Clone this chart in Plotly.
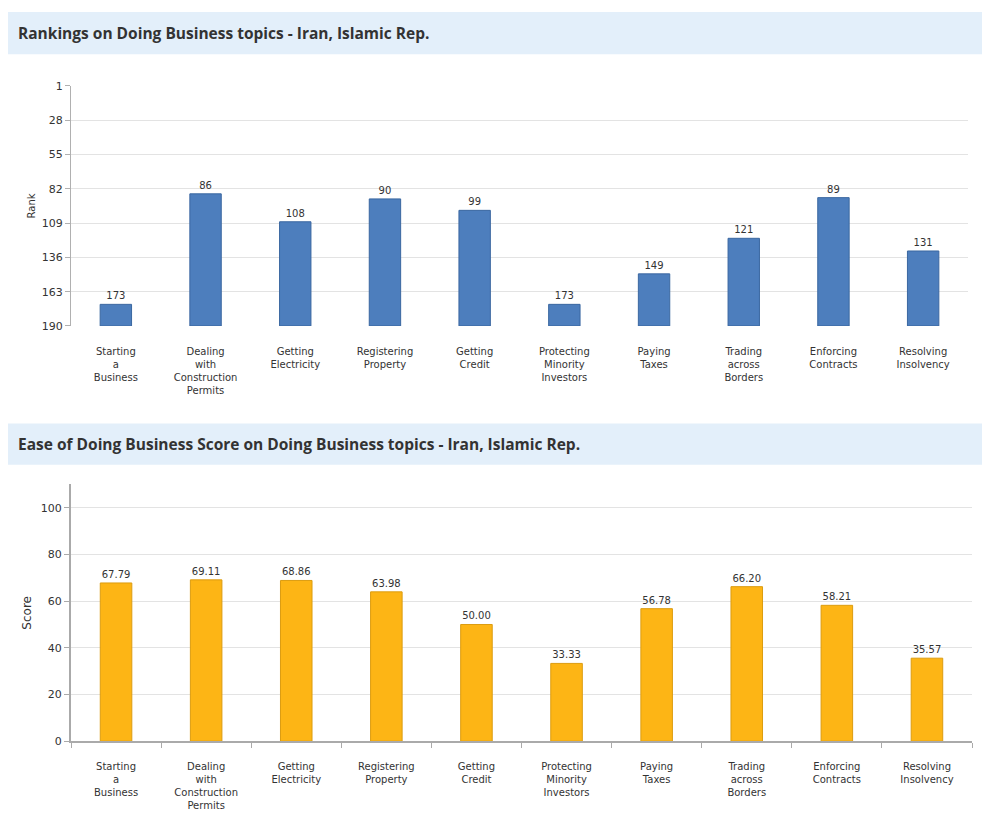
import plotly.graph_objects as go

# Doing Business topics (line breaks as in the source chart)
topics = [
    "Starting<br>a<br>Business",
    "Dealing<br>with<br>Construction<br>Permits",
    "Getting<br>Electricity",
    "Registering<br>Property",
    "Getting<br>Credit",
    "Protecting<br>Minority<br>Investors",
    "Paying<br>Taxes",
    "Trading<br>across<br>Borders",
    "Enforcing<br>Contracts",
    "Resolving<br>Insolvency",
]
ranks = [173, 86, 108, 90, 99, 173, 149, 121, 89, 131]
scores = [67.79, 69.11, 68.86, 63.98, 50.00, 33.33, 56.78, 66.20, 58.21, 35.57]

rank_ticks = [1, 28, 55, 82, 109, 136, 163, 190]
score_ticks = [0, 20, 40, 60, 80, 100]
rank_floor = 190

W, H = 1000, 817
OFF = 8  # page body margin


def px_x(p):
    return (p - OFF) / W


def px_y(p):
    # pixel from top of window -> paper fraction
    return 1 - (p - OFF) / H


font = "DejaVu Sans"
grid = "#e3e3e3"

fig = go.Figure()

fig.add_trace(go.Bar(
    x=topics, y=[r - rank_floor for r in ranks], base=rank_floor,
    width=0.35,
    marker=dict(color="#4d7ebd", line=dict(color="#3a67a0", width=1)),
    text=[str(r) for r in ranks], textposition="outside",
    textfont=dict(size=10, color="#333"), cliponaxis=False,
    xaxis="x", yaxis="y", showlegend=False,
))

fig.add_trace(go.Bar(
    x=topics, y=scores, width=0.35,
    marker=dict(color="#fdb515", line=dict(color="#dc9c10", width=1)),
    text=[f"{s:.2f}" for s in scores], textposition="outside",
    textfont=dict(size=10, color="#333"), cliponaxis=False,
    xaxis="x2", yaxis="y2", showlegend=False,
))

fig.update_layout(
    width=W, height=H,
    margin=dict(l=0, r=0, t=0, b=0),
    paper_bgcolor="white", plot_bgcolor="white",
    font=dict(family=font, size=10, color="#333"),
    xaxis=dict(domain=[px_x(71), px_x(968)], anchor="y", showline=False,
               ticks="", ticklabelstandoff=18, tickfont=dict(size=10),
               showgrid=False),
    yaxis=dict(domain=[px_y(325), px_y(81)], anchor="x",
               range=[rank_floor, 1], tickvals=rank_ticks,
               showline=True, linecolor="#b0b0b0", linewidth=1,
               ticks="outside", ticklen=5, tickcolor="#b0b0b0",
               gridcolor=grid, zeroline=False, tickfont=dict(size=11),
               title=dict(text="Rank", font=dict(size=10), standoff=4)),
    xaxis2=dict(domain=[px_x(71), px_x(972)], anchor="y2", showline=True,
                linecolor="#aaaaaa", linewidth=2, ticks="outside",
                tickson="boundaries", ticklen=5, tickcolor="#aaaaaa",
                ticklabelstandoff=15, tickfont=dict(size=10), showgrid=False),
    yaxis2=dict(domain=[px_y(747), px_y(486)], anchor="x2",
                range=[0, 110], tickvals=score_ticks,
                showline=True, linecolor="#aaaaaa", linewidth=2,
                ticks="outside", ticklen=5, tickcolor="#aaaaaa",
                gridcolor=grid, zeroline=False, tickfont=dict(size=11),
                title=dict(text="Score", font=dict(size=12), standoff=7)),
)

# title bands
for top, bottom, title in [
    (6, 49, "Rankings on Doing Business topics - Iran, Islamic Rep."),
    (424, 466, "Ease of Doing Business Score on Doing Business topics - Iran, Islamic Rep."),
]:
    fig.add_shape(type="rect", xref="paper", yref="paper",
                  x0=px_x(8), x1=px_x(982), y0=px_y(bottom), y1=px_y(top),
                  fillcolor="#e3effa", line=dict(width=0), layer="below")
    fig.add_annotation(xref="paper", yref="paper", x=px_x(16),
                       y=px_y((top + bottom) / 2), xanchor="left", yanchor="middle",
                       text=f"<b>{title}</b>", showarrow=False,
                       font=dict(family="Open Sans", size=15.5, color="#333"))

fig.write_html("out.html")
